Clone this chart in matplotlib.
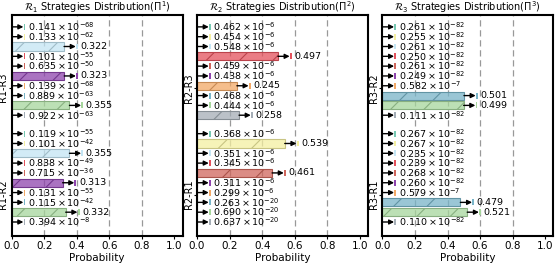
import numpy as np
import matplotlib
matplotlib.use("Agg")
import matplotlib.pyplot as plt
from matplotlib.colors import to_rgba

# =========================================
# DATA
# =========================================

titles = [
    r"$\mathcal{R}_1$ Strategies Distribution($\Pi^1$)",
    r"$\mathcal{R}_2$ Strategies Distribution($\Pi^2$)",
    r"$\mathcal{R}_3$ Strategies Distribution($\Pi^3$)",
]

group_labels = [
    ["R1-R3", "R1-R2"],
    ["R2-R3", "R2-R1"],
    ["R3-R2", "R3-R1"],
]

r1_r3 = [0.141e-68, 0.133e-62, 0.322, 0.101e-55, 0.635e-50,
         0.323, 0.139e-68, 0.889e-63, 0.355, 0.922e-63]
r1_r2 = [0.119e-55, 0.101e-42, 0.355, 0.838e-49, 0.715e-36,
         0.313, 0.131e-55, 0.115e-42, 0.332, 0.394e-8]

r2_r3 = [0.462e-6, 0.454e-6, 0.548e-6, 0.497, 0.459e-6,
         0.438e-6, 0.245, 0.468e-6, 0.444e-6, 0.258]
r2_r1 = [0.368e-6, 0.539, 0.351e-6, 0.345e-6, 0.461,
         0.311e-6, 0.299e-6, 0.263e-20, 0.690e-20, 0.637e-20]

r3_r2 = [0.261e-82, 0.255e-82, 0.261e-82, 0.250e-82, 0.261e-82,
         0.249e-82, 0.582e-7, 0.501, 0.499, 0.111e-82]
r3_r1 = [0.267e-82, 0.267e-82, 0.235e-82, 0.239e-82, 0.268e-82,
         0.260e-82, 0.579e-7, 0.479, 0.521, 0.110e-82]

panels = [[r1_r3, r1_r2], [r2_r3, r2_r1], [r3_r2, r3_r1]]

colors = ["#76c8b2", "#f4efa0", "#c3e5f4", "#e4525c", "#cf665c",
          "#8e44ad", "#f2a866", "#78b4c8", "#a6d69c", "#a4adb6"]

# =========================================
# LAYOUT
# =========================================

group_gap = 10.88
tick_offset = 6.2
bar_h = 0.82

ax_lefts = [0.021, 0.355, 0.689]
ax_w = 0.308
ax_bottom = 0.113
ax_h = 0.831

plt.rcParams["hatch.linewidth"] = 0.8


def fmt(v):
    if v < 1e-3:
        e = int(np.floor(np.log10(v))) + 1
        m = v / 10.0 ** e
        return r"$%.3f\times10^{%d}$" % (m, e)
    return "%.3f" % v


def darker(c, f=0.82):
    r, g, b, _ = to_rgba(c)
    return (r * f, g * f, b * f, 1.0)


fig = plt.figure(figsize=(5.55, 2.66), dpi=100)

for p, groups in enumerate(panels):
    ax = fig.add_axes([ax_lefts[p], ax_bottom, ax_w, ax_h])

    for xg in [0.2, 0.4, 0.6, 0.8]:
        ax.axvline(xg, color="#999999", ls=(0, (5, 3)), lw=0.9, zorder=0)

    for g, vals in enumerate(groups):
        ys = np.arange(len(vals)) + g * group_gap
        for i, (v, y) in enumerate(zip(vals, ys)):
            c = colors[i]
            big = v > 0.01
            ax.barh(y, v, height=bar_h, color=to_rgba(c, 0.75),
                    edgecolor=darker(c), linewidth=0.8,
                    hatch="/" if big else None, zorder=2)
            # arrow from bar end
            ax.annotate("", xy=(v + 0.072, y), xytext=(v, y),
                        arrowprops=dict(arrowstyle="-|>", color="black",
                                        lw=1.0, mutation_scale=7,
                                        shrinkA=0, shrinkB=0),
                        zorder=3)
            # small colour marker
            ax.barh(y, 0.012, left=v + 0.073, height=0.6,
                    color=c, zorder=3)
            ax.text(v + 0.1, y, fmt(v), fontsize=6.8, va="center",
                    ha="left", zorder=4)

    ax.set_xlim(0, 1.05)
    ax.set_ylim(9 + group_gap + 1.42, -1.22)
    ax.set_xticks([0.0, 0.2, 0.4, 0.6, 0.8, 1.0])
    ax.set_yticks([tick_offset, tick_offset + group_gap])
    ax.set_yticklabels(group_labels[p], rotation=90, va="center")
    ax.tick_params(labelsize=7.5, length=2.5, width=0.8)
    ax.tick_params(axis="y", pad=0.3, length=2, labelsize=7)
    ax.tick_params(axis="x", pad=1.5)
    ax.set_xlabel("Probability", fontsize=7.5, labelpad=1)
    ax.set_title(titles[p], fontsize=7, pad=3)
    for s in ax.spines.values():
        s.set_linewidth(1.5)

fig.savefig("out.png", dpi=100)
